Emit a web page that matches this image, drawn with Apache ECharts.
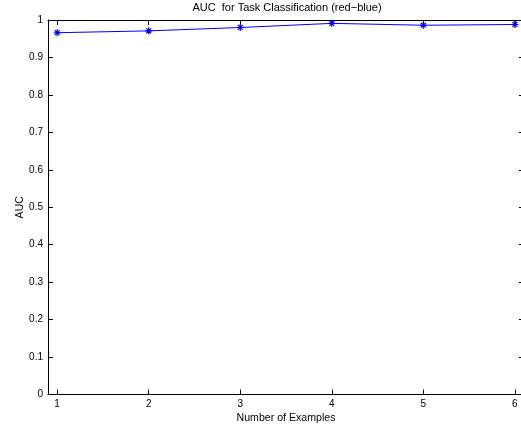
<!DOCTYPE html>
<html>
<head>
<meta charset="utf-8">
<script src="https://cdn.jsdelivr.net/npm/echarts@6/dist/echarts.min.js"></script>
<style>
html,body{margin:0;padding:0;background:#fff;}
#chart{width:521px;height:427px;}
</style>
</head>
<body>
<div id="chart"></div>
<script>
var titleText = 'AUC  for Task Classification (red\u2212blue)';
var xName = 'Number of Examples';
var yName = 'AUC';
var xValues = [1, 2, 3, 4, 5, 6];
var aucValues = [0.966, 0.971, 0.980, 0.991, 0.986, 0.988];
var xTicks = [1, 2, 3, 4, 5, 6];
var yTicks = [0, 0.1, 0.2, 0.3, 0.4, 0.5, 0.6, 0.7, 0.8, 0.9, 1];

var font = 'Liberation Sans, Arial, Helvetica, sans-serif';
var chart = echarts.init(document.getElementById('chart'), null, {renderer: 'canvas'});

function yLabel(v) {
  return v === 0 ? '0' : (v === 1 ? '1' : String(Math.round(v * 10) / 10));
}

var axisCommonX = {
  type: 'value', min: 0.9, max: 6.1,
  axisLine: {show: true, onZero: false, lineStyle: {color: '#000', width: 1}},
  splitLine: {show: false},
  axisTick: {show: true, inside: true, length: 5, customValues: xTicks, lineStyle: {color: '#000'}}
};
var axisCommonY = {
  type: 'value', min: 0, max: 1,
  axisLine: {show: true, onZero: false, lineStyle: {color: '#000', width: 1}},
  splitLine: {show: false},
  axisTick: {show: true, inside: true, length: 5, customValues: yTicks, lineStyle: {color: '#000'}}
};

var seriesData = xValues.map(function (x, i) { return [x, aucValues[i]]; });

chart.setOption({
  backgroundColor: '#fff',
  animation: false,
  title: {
    text: titleText, left: 287, top: 2, padding: 0, textAlign: 'center',
    textStyle: {fontFamily: font, fontSize: 11, fontWeight: 'normal', color: '#000'}
  },
  grid: {left: 48, top: 20, width: 476, height: 374.5, containLabel: false, outerBoundsMode: 'none'},
  xAxis: [
    Object.assign({}, axisCommonX, {
      position: 'bottom',
      name: xName, nameLocation: 'middle', nameGap: 18, nameMoveOverlap: false,
      nameTextStyle: {fontFamily: font, fontSize: 10.6, color: '#000'},
      axisLabel: {show: true, customValues: xTicks, margin: 5, fontFamily: font, fontSize: 10, color: '#000'}
    }),
    Object.assign({}, axisCommonX, {position: 'top', axisLabel: {show: false}})
  ],
  yAxis: [
    Object.assign({}, axisCommonY, {
      position: 'left',
      name: yName, nameLocation: 'middle', nameGap: 22, nameRotate: 90, nameMoveOverlap: false,
      nameTextStyle: {fontFamily: font, fontSize: 10.6, color: '#000'},
      axisLabel: {show: true, customValues: yTicks, margin: 5, fontFamily: font, fontSize: 10, color: '#000', formatter: yLabel}
    }),
    Object.assign({}, axisCommonY, {position: 'right', axisLabel: {show: false}})
  ],
  series: [{
    type: 'line',
    xAxisIndex: 0, yAxisIndex: 0,
    data: seriesData,
    lineStyle: {color: '#0000ff', width: 1},
    symbol: 'path://M0,-10L0,10M-10,0L10,0M-7,-7L7,7M-7,7L7,-7',
    symbolSize: 7,
    itemStyle: {color: 'rgba(0,0,0,0)', borderColor: '#0000ff', borderWidth: 1.2},
    emphasis: {disabled: true},
    z: 3
  }]
});
</script>
</body>
</html>
